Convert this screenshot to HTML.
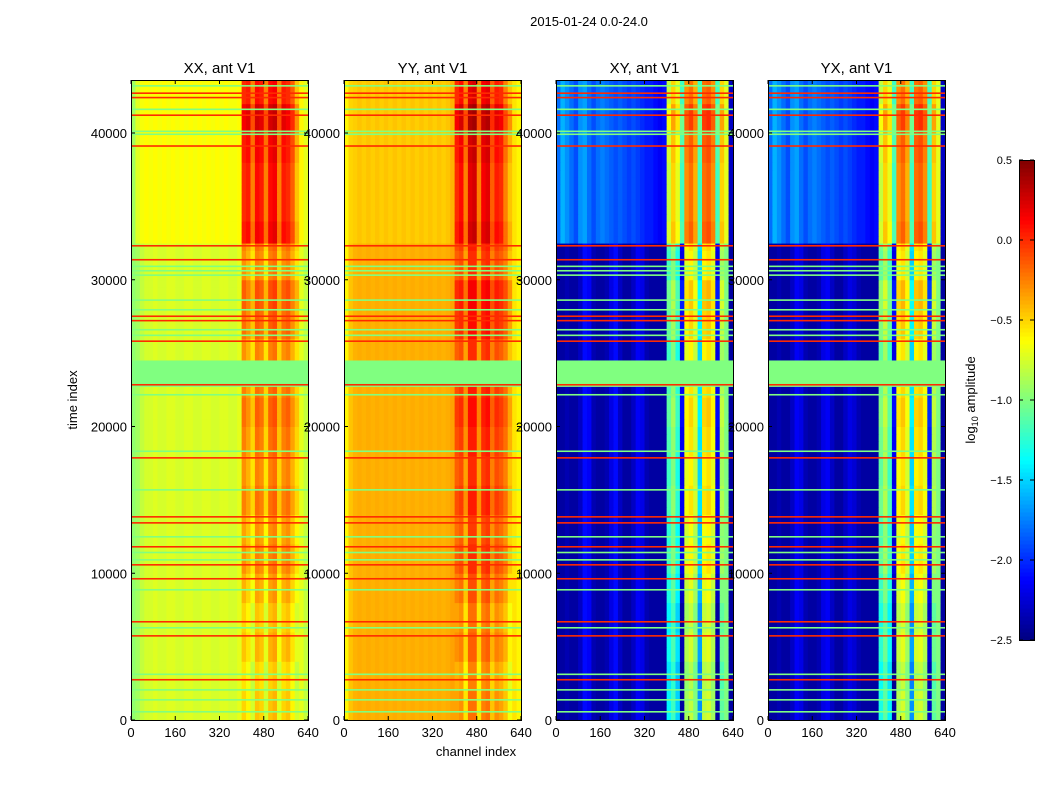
<!DOCTYPE html>
<html><head><meta charset="utf-8"><style>
body{margin:0;background:#fff;font-family:"Liberation Sans",sans-serif;}
svg text{font-family:"Liberation Sans","DejaVu Sans",sans-serif;}
</style></head><body>
<svg id="fig" width="1050" height="800" viewBox="0 0 1050 800" xmlns="http://www.w3.org/2000/svg">
<rect width="1050" height="800" fill="#fff"/>
<text x="589" y="26" font-size="13" text-anchor="middle">2015-01-24 0.0-24.0</text>
<text transform="translate(77,400) rotate(-90)" font-size="13" text-anchor="middle">time index</text>
<text x="476" y="756" font-size="13" text-anchor="middle">channel index</text>
<text transform="translate(975,400) rotate(-90)" font-size="13" text-anchor="middle">log<tspan font-size="9" dy="3">10</tspan><tspan dy="-3"> amplitude</tspan></text>
<g id="panels"></g>
<g id="cbar"></g>
</svg>
<script>
// ---- data ----
const panelTitles = ["XX, ant V1","YY, ant V1","XY, ant V1","YX, ant V1"];
const xTicks = [0,160,320,480,640];
const yTicks = [0,10000,20000,30000,40000];
const cbTicks = [-2.5,-2.0,-1.5,-1.0,-0.5,0.0,0.5];
// column profiles, one value per 16 channels (40 columns), log10 amplitude
const colLowXX = [-0.95,-0.9,-0.8,-0.75,-0.75,-0.72,-0.75,-0.75,-0.72,-0.72,-0.75,-0.75,-0.72,-0.72,-0.75,-0.75,-0.72,-0.72,-0.75,-0.75,-0.72,-0.72,-0.75,-0.75,-0.7,-0.3,-0.4,-0.55,-0.25,-0.3,-0.55,-0.25,-0.2,-0.5,-0.3,-0.25,-0.4,-0.55,-0.7,-0.8];
const colHighXX = [-0.9,-0.72,-0.65,-0.62,-0.65,-0.62,-0.65,-0.62,-0.65,-0.62,-0.65,-0.62,-0.65,-0.62,-0.65,-0.62,-0.65,-0.62,-0.65,-0.62,-0.65,-0.62,-0.65,-0.65,-0.62,0.0,0.05,-0.25,0.1,0.05,-0.25,0.1,0.15,-0.25,0.05,0.0,-0.15,-0.45,-0.6,-0.7];
const colLowYY = [-0.6,-0.45,-0.4,-0.38,-0.4,-0.38,-0.4,-0.38,-0.4,-0.38,-0.4,-0.38,-0.4,-0.38,-0.4,-0.38,-0.4,-0.38,-0.4,-0.38,-0.4,-0.38,-0.4,-0.38,-0.35,-0.15,-0.1,-0.35,0.0,0.0,-0.35,-0.05,0.0,-0.25,-0.1,-0.15,-0.25,-0.45,-0.55,-0.6];
const colHighYY = [-0.6,-0.5,-0.48,-0.45,-0.48,-0.45,-0.48,-0.45,-0.48,-0.45,-0.48,-0.45,-0.48,-0.45,-0.48,-0.45,-0.48,-0.45,-0.48,-0.45,-0.48,-0.45,-0.48,-0.45,-0.4,0.0,0.1,-0.25,0.2,0.25,-0.25,0.15,0.2,-0.15,0.05,0.0,-0.25,-0.45,-0.55,-0.6];
const colLowXY = [-2.4,-2.4,-2.35,-2.4,-2.4,-2.3,-2.1,-2.15,-2.35,-2.4,-2.4,-2.35,-2.2,-2.1,-2.3,-2.4,-2.4,-2.3,-2.15,-2.2,-2.35,-2.4,-2.4,-2.4,-2.4,-1.2,-1.0,-1.3,-2.2,-0.7,-0.6,-0.8,-1.5,-0.6,-0.55,-0.7,-2.2,-0.9,-1.0,-2.4];
const colHighXY = [-1.8,-1.6,-1.7,-1.8,-1.9,-1.7,-1.65,-1.8,-1.9,-1.8,-1.75,-1.8,-1.85,-1.9,-1.85,-1.9,-1.95,-1.9,-1.95,-2.0,-2.05,-2.05,-2.1,-2.15,-2.1,-0.8,-0.5,-0.7,-1.2,-0.3,-0.2,-0.4,-1.2,-0.2,-0.15,-0.3,-1.2,-0.5,-0.7,-2.3];
const colLowYX = [-2.4,-2.4,-2.35,-2.4,-2.4,-2.3,-2.15,-2.2,-2.35,-2.4,-2.4,-2.35,-2.2,-2.15,-2.3,-2.4,-2.4,-2.3,-2.2,-2.25,-2.35,-2.4,-2.4,-2.4,-2.4,-1.1,-0.9,-1.2,-2.2,-0.65,-0.55,-0.75,-1.5,-0.6,-0.55,-0.7,-2.1,-0.9,-1.0,-2.4];
const colHighYX = [-1.8,-1.6,-1.7,-1.8,-1.9,-1.7,-1.65,-1.8,-1.9,-1.8,-1.75,-1.8,-1.85,-1.9,-1.85,-1.9,-1.95,-1.9,-1.95,-2.0,-2.05,-2.05,-2.1,-2.15,-2.1,-0.8,-0.5,-0.7,-1.2,-0.3,-0.2,-0.4,-1.2,-0.2,-0.15,-0.3,-1.2,-0.5,-0.7,-2.3];
// right-block (channels 400-620) modulation per 2000 time units (22 bands, from t=0)
const rightMod = [-0.2,-0.25,-0.15,-0.2,-0.1,0.0,-0.05,0.05,0.0,0.05,0.1,0.05,0.0,0.1,0.15,0.0,0.05,0.0,0.0,0.05,0.15,0.0];
const highStart = 32500;
const greenBand = [22700,24500,-1.0];
// horizontal stripes: [time, value]
const stripes = [[545,-1.0],[1360,-1.0],[2040,-1.0],[2730,0.0],[3100,-1.0],[5720,0.0],[6270,-1.0],[6680,0.0],[8860,-1.0],[9610,0.0],[10560,0.0],[10900,-1.0],[11400,-1.0],[11790,0.0],[12470,-1.0],[13420,0.0],[13830,0.0],[15670,-1.0],[17850,0.0],[18300,-1.0],[22150,-1.0],[22830,0.0],[25800,0.0],[26200,-1.0],[26580,-1.0],[27200,0.0],[27500,0.0],[27940,-1.0],[28600,-1.0],[30300,-1.0],[30600,-1.0],[30900,-1.0],[31350,0.0],[32300,0.0],[39100,0.0],[39900,-1.0],[40100,-1.0],[41200,0.0],[41600,-1.0],[42400,0.0],[42700,0.0],[43200,-1.0]];
const panelCols = [[colLowXX,colHighXX],[colLowYY,colHighYY],[colLowXY,colHighXY],[colLowYX,colHighYX]];

// ---- layout ----
const panelX = [131,344,556,768], pw = 177, pTop = 80, pBot = 720;
const tMax = 43612, chMax = 640;
const yScale = t => pBot - t/tMax*(pBot-pTop);
const xScale = (i,c) => panelX[i] + c/chMax*pw;
const vmin=-2.5,vmax=0.5;
function jet(v){
  let x=(v-vmin)/(vmax-vmin); x=Math.max(0,Math.min(1,x));
  const cl=a=>Math.round(255*Math.max(0,Math.min(1,a)));
  return `rgb(${cl(1.5-Math.abs(4*x-3))},${cl(1.5-Math.abs(4*x-2))},${cl(1.5-Math.abs(4*x-1))})`;
}
const NS="http://www.w3.org/2000/svg";
function mk(tag,attrs,parent){const e=document.createElementNS(NS,tag);for(const k in attrs)e.setAttribute(k,attrs[k]);parent.appendChild(e);return e;}
const G=document.getElementById('panels');
const rowStep=500;
panelCols.forEach((cols,i)=>{
  const g=mk('g',{},G);
  
  
  for(let t=0;t<tMax;t+=rowStep){
    const hi = t>=highStart;
    const prof = hi?cols[1]:cols[0];
    const y1=yScale(Math.min(t+rowStep,tMax)), y0=yScale(t);
    for(let c=0;c<40;c++){
      let v=prof[c];
      if(c>=25&&c<38) v+=rightMod[Math.floor(t/2000)]||0;
      const r=mk('rect',{x:xScale(i,c*16),y:y1,width:pw/40+0.5,height:y0-y1+0.5,fill:jet(v)},g);
      
      
    }
  }
  const gb=mk('rect',{x:panelX[i],y:yScale(greenBand[1]),width:pw,height:yScale(greenBand[0])-yScale(greenBand[1]),fill:jet(greenBand[2])},g);
  
  
  stripes.forEach(s=>{
    const r=mk('rect',{x:panelX[i],y:yScale(s[0])-1,width:pw,height:1.6,fill:jet(s[1])},g);
    
    
  });
  const fr=mk('rect',{x:panelX[i]+0.5,y:pTop+0.5,width:pw,height:pBot-pTop,fill:'none',stroke:'#000','stroke-width':1},g);
  
  
  const tt=mk('text',{x:panelX[i]+pw/2,y:73,'font-size':15,'text-anchor':'middle'},g);
  tt.textContent=panelTitles[i];
  
  
  xTicks.forEach(v=>{
    const x=xScale(i,v);
    mk('line',{x1:x,x2:x,y1:pBot,y2:pBot-4,stroke:'#000'},g);
    mk('line',{x1:x,x2:x,y1:pTop,y2:pTop+4,stroke:'#000'},g);
    const l=mk('text',{x:x,y:pBot+17,'font-size':13,'text-anchor':'middle'},g);
    l.textContent=v;
    
    
  });
  yTicks.forEach(v=>{
    const y=yScale(v);
    mk('line',{x1:panelX[i],x2:panelX[i]+4,y1:y,y2:y,stroke:'#000'},g);
    mk('line',{x1:panelX[i]+pw,x2:panelX[i]+pw-4,y1:y,y2:y,stroke:'#000'},g);
    const l=mk('text',{x:panelX[i]-4,y:y+5,'font-size':13,'text-anchor':'end'},g);
    l.textContent=v;
    
    
  });
});
// colorbar
const CB=document.getElementById('cbar');
const cbx=1019,cbw=15,cbt=160,cbb=640;
for(let k=0;k<120;k++){
  const v=vmin+(k+0.5)/120*(vmax-vmin);
  const y0=cbb-(k+1)/120*(cbb-cbt);
  const r=mk('rect',{x:cbx,y:y0,width:cbw,height:(cbb-cbt)/120+0.5,fill:jet(v)},CB);
  
  
}
const cf=mk('rect',{x:cbx+0.5,y:cbt+0.5,width:cbw,height:cbb-cbt,fill:'none',stroke:'#000'},CB);


cbTicks.forEach(v=>{
  const y=cbb-(v-vmin)/(vmax-vmin)*(cbb-cbt);
  mk('line',{x1:cbx,x2:cbx+4,y1:y,y2:y,stroke:'#000'},CB);
  mk('line',{x1:cbx+cbw,x2:cbx+cbw-4,y1:y,y2:y,stroke:'#000'},CB);
  const l=mk('text',{x:1012,y:y+4,'font-size':11,'text-anchor':'end'},CB);
  l.textContent=(v<0?'\u2212':'')+Math.abs(v).toFixed(1);
  
  
});
</script>
</body></html>
